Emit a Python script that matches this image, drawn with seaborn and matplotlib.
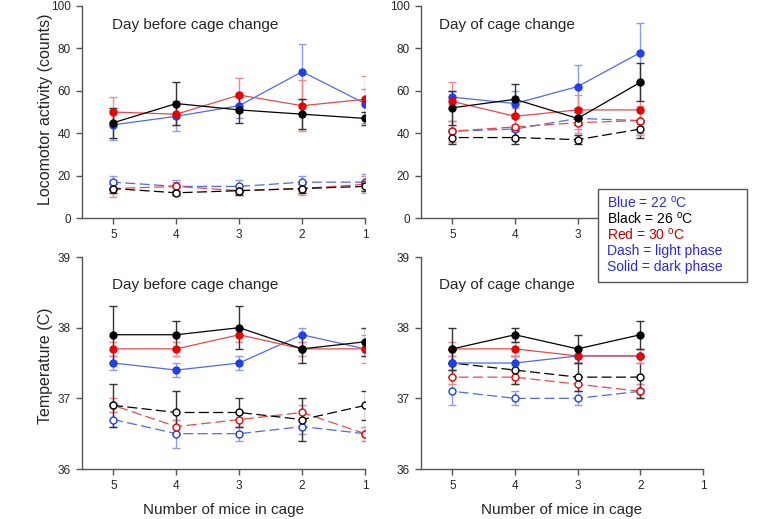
import numpy as np
import pandas as pd
import matplotlib
matplotlib.use("Agg")
import matplotlib.pyplot as plt
from matplotlib.patches import Rectangle
import seaborn as sns

# Number of mice in cage
mice_before = [5, 4, 3, 2, 1]
mice_of = [5, 4, 3, 2]

# Locomotor activity, day before cage change (dark = solid, light = dash)
act_before_dark_22 = [44, 48, 53, 69, 54]
act_before_dark_22_se = [7, 7, 6, 13, 7]
act_before_dark_26 = [45, 54, 51, 49, 47]
act_before_dark_26_se = [7, 10, 6, 7, 3]
act_before_dark_30 = [50, 49, 58, 53, 56]
act_before_dark_30_se = [7, 5, 8, 12, 11]
act_before_light_22 = [17, 15, 15, 17, 17]
act_before_light_22_se = [3, 3, 3, 3, 4]
act_before_light_26 = [14, 12, 13, 14, 15]
act_before_light_26_se = [2, 1, 2, 2, 2]
act_before_light_30 = [14, 15, 13, 14, 16]
act_before_light_30_se = [4, 2, 2, 3, 4]

# Locomotor activity, day of cage change
act_of_dark_22 = [57, 54, 62, 78]
act_of_dark_22_se = [3, 6, 10, 14]
act_of_dark_26 = [52, 56, 47, 64]
act_of_dark_26_se = [8, 7, 3, 9]
act_of_dark_30 = [55, 48, 51, 51]
act_of_dark_30_se = [9, 4, 7, 12]
act_of_light_22 = [41, 42, 47, 46]
act_of_light_22_se = [5, 5, 5, 6]
act_of_light_26 = [38, 38, 37, 42]
act_of_light_26_se = [3, 3, 2, 4]
act_of_light_30 = [41, 43, 45, 46]
act_of_light_30_se = [5, 5, 5, 7]

# Temperature, day before cage change
tmp_before_dark_22 = [37.5, 37.4, 37.5, 37.9, 37.7]
tmp_before_dark_22_se = [0.1, 0.1, 0.1, 0.1, 0.1]
tmp_before_dark_26 = [37.9, 37.9, 38.0, 37.7, 37.8]
tmp_before_dark_26_se = [0.4, 0.2, 0.3, 0.2, 0.2]
tmp_before_dark_30 = [37.7, 37.7, 37.9, 37.7, 37.7]
tmp_before_dark_30_se = [0.1, 0.1, 0.1, 0.1, 0.2]
tmp_before_light_22 = [36.7, 36.5, 36.5, 36.6, 36.5]
tmp_before_light_22_se = [0.1, 0.2, 0.1, 0.1, 0.1]
tmp_before_light_26 = [36.9, 36.8, 36.8, 36.7, 36.9]
tmp_before_light_26_se = [0.3, 0.3, 0.2, 0.3, 0.2]
tmp_before_light_30 = [36.9, 36.6, 36.7, 36.8, 36.5]
tmp_before_light_30_se = [0.1, 0.1, 0.1, 0.1, 0.1]

# Temperature, day of cage change
tmp_of_dark_22 = [37.5, 37.5, 37.6, 37.6]
tmp_of_dark_22_se = [0.1, 0.1, 0.1, 0.1]
tmp_of_dark_26 = [37.7, 37.9, 37.7, 37.9]
tmp_of_dark_26_se = [0.3, 0.1, 0.2, 0.2]
tmp_of_dark_30 = [37.7, 37.7, 37.6, 37.6]
tmp_of_dark_30_se = [0.1, 0.1, 0.1, 0.1]
tmp_of_light_22 = [37.1, 37.0, 37.0, 37.1]
tmp_of_light_22_se = [0.2, 0.1, 0.1, 0.1]
tmp_of_light_26 = [37.5, 37.4, 37.3, 37.3]
tmp_of_light_26_se = [0.2, 0.2, 0.2, 0.3]
tmp_of_light_30 = [37.3, 37.3, 37.2, 37.1]
tmp_of_light_30_se = [0.1, 0.1, 0.1, 0.1]

panel_titles = ["Day before cage change", "Day of cage change"]
legend_lines = ["Blue = 22 $^{\\rm o}$C", "Black = 26 $^{\\rm o}$C",
                "Red = 30 $^{\\rm o}$C", "Dash = light phase", "Solid = dark phase"]
legend_colors = ["#2b2bd6", "black", "#c00000", "#2b2bd6", "#2b2bd6"]

# colours per temperature: marker, line, error bar
STYLE = {
    22: dict(mk="#1f3fe8", ln="#4f6ae6", eb="#8c9cf0"),
    30: dict(mk="#ee0000", ln="#e84a4a", eb="#f08a8a"),
    26: dict(mk="black", ln="black", eb="#333333"),
}


def build_frame(mice, series):
    rows = []
    for (phase, temp), (vals, errs) in series.items():
        for m, v, e in zip(mice, vals, errs):
            rows.append(dict(mice=m, value=v, se=e, phase=phase, temp=temp))
    return pd.DataFrame(rows)


panels = [
    build_frame(mice_before, {
        ("light", 22): (act_before_light_22, act_before_light_22_se),
        ("light", 30): (act_before_light_30, act_before_light_30_se),
        ("light", 26): (act_before_light_26, act_before_light_26_se),
        ("dark", 22): (act_before_dark_22, act_before_dark_22_se),
        ("dark", 30): (act_before_dark_30, act_before_dark_30_se),
        ("dark", 26): (act_before_dark_26, act_before_dark_26_se),
    }),
    build_frame(mice_of, {
        ("light", 22): (act_of_light_22, act_of_light_22_se),
        ("light", 30): (act_of_light_30, act_of_light_30_se),
        ("light", 26): (act_of_light_26, act_of_light_26_se),
        ("dark", 22): (act_of_dark_22, act_of_dark_22_se),
        ("dark", 30): (act_of_dark_30, act_of_dark_30_se),
        ("dark", 26): (act_of_dark_26, act_of_dark_26_se),
    }),
    build_frame(mice_before, {
        ("light", 22): (tmp_before_light_22, tmp_before_light_22_se),
        ("light", 30): (tmp_before_light_30, tmp_before_light_30_se),
        ("light", 26): (tmp_before_light_26, tmp_before_light_26_se),
        ("dark", 22): (tmp_before_dark_22, tmp_before_dark_22_se),
        ("dark", 30): (tmp_before_dark_30, tmp_before_dark_30_se),
        ("dark", 26): (tmp_before_dark_26, tmp_before_dark_26_se),
    }),
    build_frame(mice_of, {
        ("light", 22): (tmp_of_light_22, tmp_of_light_22_se),
        ("light", 30): (tmp_of_light_30, tmp_of_light_30_se),
        ("light", 26): (tmp_of_light_26, tmp_of_light_26_se),
        ("dark", 22): (tmp_of_dark_22, tmp_of_dark_22_se),
        ("dark", 30): (tmp_of_dark_30, tmp_of_dark_30_se),
        ("dark", 26): (tmp_of_dark_26, tmp_of_dark_26_se),
    }),
]

sns.set_style("ticks")
plt.rcParams["font.family"] = ["Liberation Sans", "DejaVu Sans"]
plt.rcParams["mathtext.fontset"] = "custom"
plt.rcParams["mathtext.rm"] = "Liberation Sans"

fig = plt.figure(figsize=(7.78, 5.19), dpi=100)
positions = [
    [0.1054, 0.5794, 0.3638, 0.4094],
    [0.5411, 0.5794, 0.3625, 0.4094],
    [0.1054, 0.0963, 0.3638, 0.4085],
    [0.5411, 0.0963, 0.3625, 0.4085],
]
title_y = [0.889, 0.889, 0.848, 0.848]
title_x = [0.106, 0.065, 0.106, 0.065]

for i, (df, pos) in enumerate(zip(panels, positions)):
    ax = fig.add_axes(pos)
    for (phase, temp), grp in df.groupby(["phase", "temp"], sort=False):
        st = STYLE[temp]
        ax.errorbar(grp["mice"], grp["value"], yerr=grp["se"], fmt="none",
                    ecolor=st["eb"], elinewidth=1.0, capsize=3, capthick=1.0,
                    zorder=2)
        sns.lineplot(data=grp, x="mice", y="value", ax=ax, errorbar=None,
                     color=st["ln"], linewidth=0.9,
                     linestyle=(0, (8, 3.5)) if phase == "light" else "-",
                     marker="o", markersize=5,
                     markerfacecolor="white" if phase == "light" else st["mk"],
                     markeredgecolor=st["mk"], markeredgewidth=1.0,
                     zorder=3)
    ax.set_xlim(5.5, 1)
    ax.set_xticks([5, 4, 3, 2, 1])
    if i == 1:
        # these two tick labels sit under the legend box in the original
        ax.set_xticklabels(["5", "4", "3", "", ""])
    if i < 2:
        ax.set_ylim(0, 100)
        ax.set_yticks([0, 20, 40, 60, 80, 100])
    else:
        ax.set_ylim(36, 39)
        ax.set_yticks([36, 37, 38, 39])
    sns.despine(ax=ax)
    for sp in ["left", "bottom"]:
        ax.spines[sp].set_color("#555555")
        ax.spines[sp].set_linewidth(1.0)
    ax.tick_params(axis="both", labelsize=8.5, length=4, width=1.0,
                   color="#555555", pad=4)
    ax.set_xlabel("Number of mice in cage" if i >= 2 else "", fontsize=11,
                  labelpad=8)
    ax.set_ylabel("")
    ax.text(title_x[i], title_y[i], panel_titles[i % 2], transform=ax.transAxes,
            fontsize=11, va="baseline", ha="left")

fig.text(0.058, 1 - 109 / 519, "Locomotor activity (counts)", rotation=90,
         ha="center", va="center", fontsize=11.5)
fig.text(0.058, 1 - 366 / 519, "Temperature (C)", rotation=90,
         ha="center", va="center", fontsize=11.5)

# legend box, drawn over the axes like in the original
box = Rectangle((598 / 778, 1 - 282 / 519), 149 / 778, 93 / 519,
                transform=fig.transFigure, facecolor="white",
                edgecolor="#555555", linewidth=1.0, zorder=10)
fig.add_artist(box)
for k, (txt, col) in enumerate(zip(legend_lines, legend_colors)):
    fig.text(607 / 778, 1 - (203 + 16 * k) / 519, txt, color=col, fontsize=10,
             ha="left", va="center", zorder=11)

fig.savefig("out.png", dpi=100)
